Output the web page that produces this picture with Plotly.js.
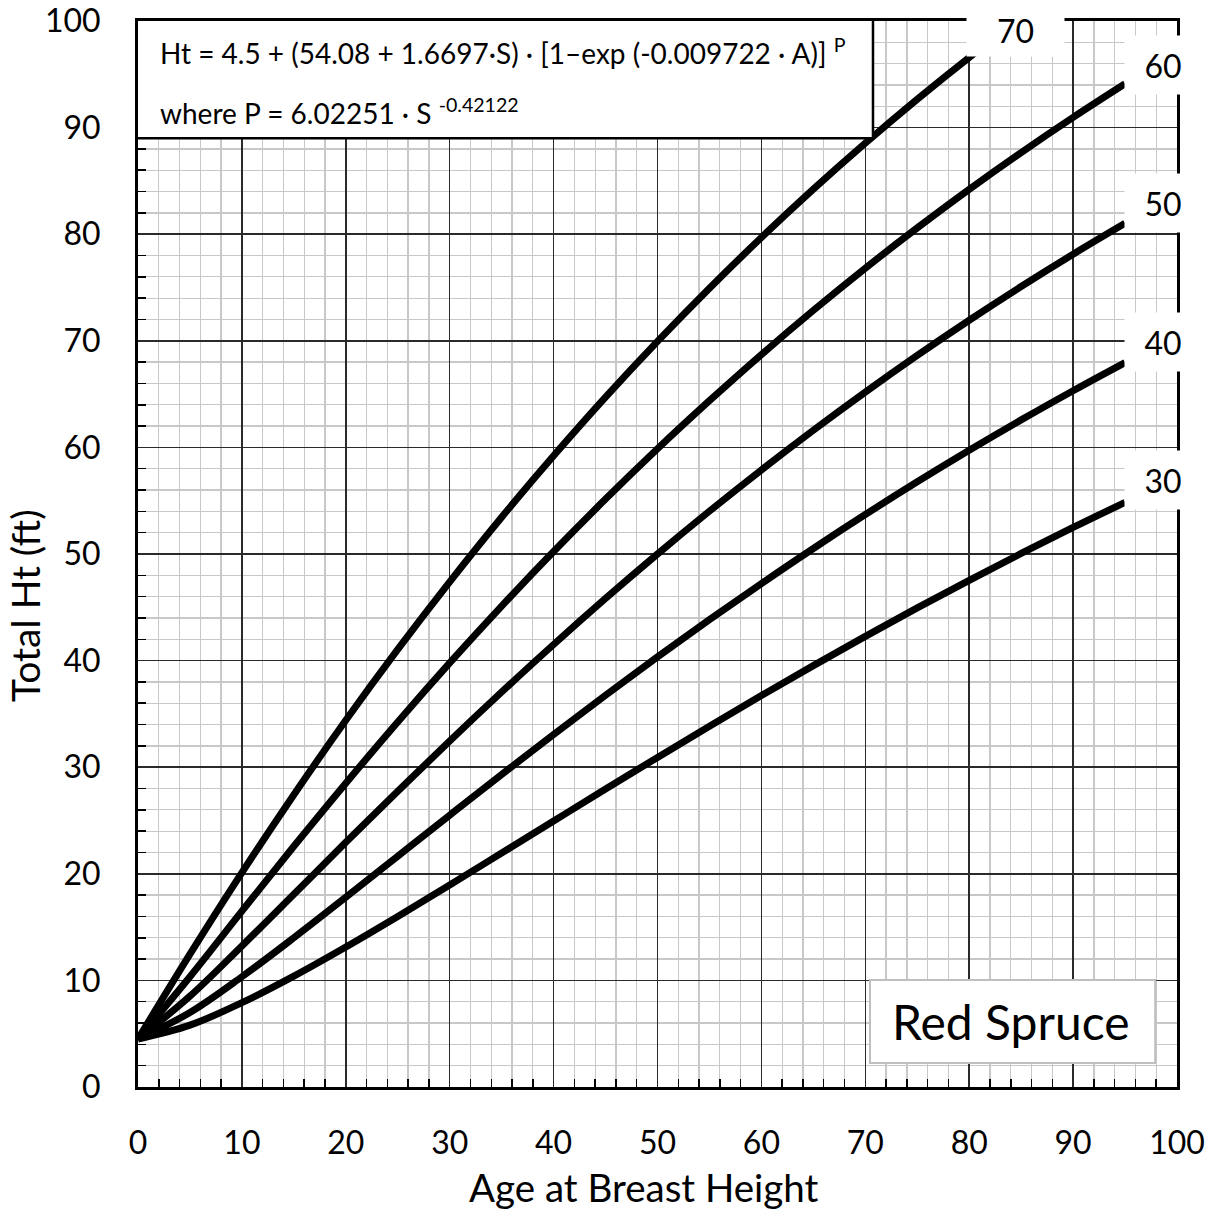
<!DOCTYPE html>
<html>
<head>
<meta charset="utf-8">
<script src="https://cdn.plot.ly/plotly-3.0.1.min.js"></script>
<style>html,body{margin:0;padding:0;background:#fff;}#chart{width:1217px;height:1209px;}</style>
</head>
<body>
<div id="chart"></div>
<script>
// Age at breast height (x)
const ages = [0,5,10,15,20,25,30,35,40,45,50,55,60,65,70,75,80,85,90,95];
const ages70 = [0,5,10,15,20,25,30,35,40,45,50,55,60,65,70,75,80,85];
// Total height (ft) read for each site index curve
const ht30 = [4.5,5.8,7.91,10.4,13.13,16.0,18.95,21.95,24.95,27.95,30.92,33.84,36.72,39.53,42.27,44.94,47.53,50.05,52.49,54.84];
const ht40 = [4.5,6.99,10.34,14.0,17.8,21.65,25.5,29.32,33.07,36.75,40.35,43.84,47.23,50.52,53.7,56.77,59.73,62.58,65.32,67.96];
const ht50 = [4.5,8.52,13.23,18.08,22.95,27.75,32.46,37.05,41.51,45.83,50.0,54.02,57.89,61.61,65.19,68.63,71.93,75.09,78.12,81.02];
const ht60 = [4.5,10.35,16.5,22.58,28.5,34.24,39.78,45.11,50.23,55.15,59.87,64.38,68.71,72.85,76.81,80.59,84.21,87.66,90.96,94.11];
const ht70 = [4.5,12.46,20.11,27.42,34.4,41.05,47.39,53.45,59.21,64.71,69.94,74.93,79.69,84.22,88.54,92.66,96.58,100.3];

const siteLabels = ["30","40","50","60","70"];
const seriesX = [ages, ages, ages, ages, ages70];
const seriesY = [ht30, ht40, ht50, ht60, ht70];

const majorTicks = [0,10,20,30,40,50,60,70,80,90,100];
const minorTicks = [2,4,6,8,12,14,16,18,22,24,26,28,32,34,36,38,42,44,46,48,52,54,56,58,62,64,66,68,72,74,76,78,82,84,86,88,92,94,96,98];

const titleX = "Age at Breast Height";
const titleY = "Total Ht (ft)";
const formula1 = "Ht = 4.5 + (54.08 + 1.6697·S) · [1–exp (-0.009722 · A)] <sup>P</sup>";
const formula2 = "where P = 6.02251 · S <sup>-0.42122</sup>";
const speciesName = "Red Spruce";

const FONT = "Lato, 'Open Sans', sans-serif";

const traces = seriesY.map((ys, i) => ({
  x: seriesX[i], y: ys, type: "scatter", mode: "lines",
  name: siteLabels[i],
  line: {color: "#000", width: 7, shape: "spline", smoothing: 1},
  hoverinfo: "skip", showlegend: false
}));

// label box placement (data coords)
const labelPos = [
  {x: 98.65, y: 56.9, w: 76, h: 58},
  {x: 98.65, y: 69.9, w: 76, h: 58},
  {x: 98.65, y: 82.9, w: 76, h: 58},
  {x: 98.65, y: 95.9, w: 76, h: 58},
  {x: 84.5, y: 99.2, w: 97, h: 52}
];

const annotations = siteLabels.map((lab, i) => ({
  x: labelPos[i].x, y: labelPos[i].y, xref: "x", yref: "y",
  text: lab, showarrow: false, bgcolor: "#fff",
  width: labelPos[i].w, height: labelPos[i].h, borderpad: 0,
  font: {family: FONT, size: 32, color: "#000"}
}));

annotations.push(
  {x: 1.9, y: 97.1, xref: "x", yref: "y", xanchor: "left", yanchor: "middle",
   text: formula1, showarrow: false, font: {family: FONT, size: 28, color: "#000"}},
  {x: 1.9, y: 91.5, xref: "x", yref: "y", xanchor: "left", yanchor: "middle",
   text: formula2, showarrow: false, font: {family: FONT, size: 28, color: "#000"}},
  {x: 84.0, y: 6.1, xref: "x", yref: "y",
   text: speciesName, showarrow: false, font: {family: FONT, size: 48, color: "#000"}},
  {x: 0.487, y: -0.094, xref: "paper", yref: "paper", xanchor: "center", yanchor: "middle",
   text: titleX, showarrow: false, font: {family: FONT, size: 38.5, color: "#000"}},
  {x: -0.109, y: 0.452, xref: "paper", yref: "paper", xanchor: "center", yanchor: "middle",
   text: titleY, textangle: -90, showarrow: false, font: {family: FONT, size: 39, color: "#000"}}
);

const shapes = [
  {type: "rect", xref: "x", yref: "y", x0: -0.4, x1: 70.74, y0: 89.0, y1: 100.3,
   line: {color: "#000", width: 2.5}, fillcolor: "#fff", layer: "above"},
  {type: "rect", xref: "x", yref: "y", x0: 70.45, x1: 97.9, y0: 2.25, y1: 10.04,
   line: {color: "#bfbfbf", width: 2}, fillcolor: "#fff", layer: "above"}
];

const axisCommon = {
  range: [0, 100], showline: true, linewidth: 3, linecolor: "#000", mirror: true,
  showgrid: true, gridcolor: "#2a2a2a", gridwidth: 1.5,
  zeroline: false, ticks: "", tickmode: "array",
  tickvals: majorTicks, ticktext: majorTicks.map(String),
  tickfont: {family: FONT, size: 32, color: "#000"},
  minor: {tickmode: "array", tickvals: minorTicks, showgrid: true, gridcolor: "#c8c8c8", gridwidth: 1.3,
          ticks: "inside", ticklen: 8, tickcolor: "#000", tickwidth: 1.5},
  fixedrange: true
};

const layout = {
  width: 1217, height: 1209,
  margin: {l: 138, r: 40, t: 21, b: 122, pad: 0},
  paper_bgcolor: "#fff", plot_bgcolor: "#fff",
  showlegend: false,
  xaxis: Object.assign({}, axisCommon, {ticklabelstandoff: 26}),
  yaxis: Object.assign({}, axisCommon, {ticklabelstandoff: 28}),
  annotations: annotations,
  shapes: shapes
};

Plotly.newPlot("chart", traces, layout, {displayModeBar: false, staticPlot: true});
</script>
</body>
</html>
